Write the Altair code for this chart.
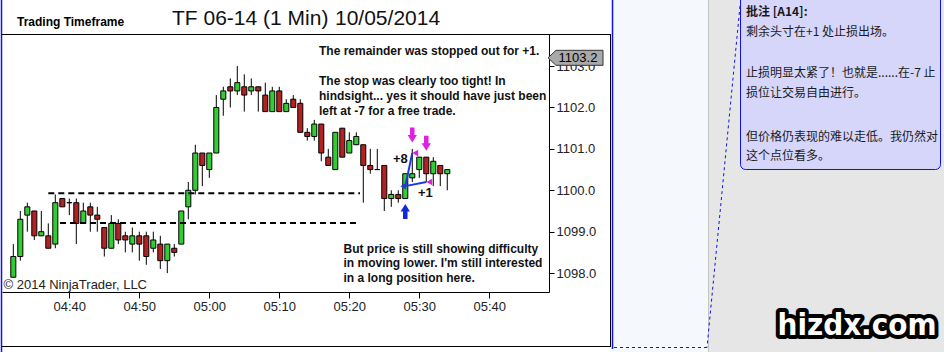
import altair as alt
import pandas as pd

FONT = "Liberation Sans"
CJK = "Noto Sans CJK SC"
GREEN = "#32CD32"
RED = "#B22222"
BLUE = "#2236E0"
MAGENTA = "#E020E0"

# ---------------- data ----------------
times = ["04:32", "04:33", "04:34", "04:35", "04:36", "04:37", "04:38", "04:39",
         "04:40", "04:41", "04:42", "04:43", "04:44", "04:45", "04:46", "04:47",
         "04:48", "04:49", "04:50", "04:51", "04:52", "04:53", "04:54", "04:55",
         "04:56", "04:57", "04:58", "04:59", "05:00", "05:01", "05:02", "05:03",
         "05:04", "05:05", "05:06", "05:07", "05:08", "05:09", "05:10", "05:11",
         "05:12", "05:13", "05:14", "05:15", "05:16", "05:17", "05:18", "05:19",
         "05:20", "05:21", "05:22", "05:23", "05:24", "05:25", "05:26", "05:27",
         "05:28", "05:29", "05:30", "05:31", "05:32", "05:33", "05:34"]
opens = [1097.9, 1098.4, 1099.4, 1099.5, 1098.9, 1098.9, 1098.7, 1099.8,
         1099.7, 1099.7, 1099.2, 1099.6, 1099.4, 1099.1, 1098.6, 1099.2,
         1098.9, 1098.7, 1098.9, 1098.9, 1098.6, 1098.7, 1098.3, 1098.6,
         1098.7, 1099.6, 1100.0, 1100.9, 1100.5, 1100.9, 1102.2, 1102.5,
         1102.4, 1102.5, 1102.4, 1102.5, 1102.3, 1101.9, 1102.4, 1101.9,
         1102.2, 1102.1, 1101.4, 1101.3, 1101.6, 1100.8, 1100.5, 1101.5,
         1100.9, 1101.1, 1101.1, 1100.6, 1100.5, 1100.6, 1099.8, 1099.9,
         1099.8, 1100.3, 1100.5, 1100.8, 1100.4, 1100.6, 1100.4]
highs = [1098.7, 1099.5, 1099.7, 1099.5, 1099.5, 1099.2, 1099.9, 1099.8,
         1099.8, 1099.8, 1099.7, 1099.7, 1099.6, 1099.1, 1099.4, 1099.3,
         1099.0, 1099.1, 1099.0, 1099.0, 1099.0, 1098.9, 1098.7, 1098.7,
         1099.5, 1100.2, 1101.1, 1100.9, 1100.9, 1102.3, 1102.5, 1102.7,
         1103.0, 1102.8, 1102.7, 1102.5, 1102.6, 1102.5, 1102.5, 1102.2,
         1102.3, 1102.2, 1101.5, 1101.7, 1101.6, 1101.0, 1101.4, 1101.5,
         1101.4, 1101.4, 1101.1, 1101.0, 1101.0, 1100.6, 1100.0, 1100.0,
         1100.4, 1101.0, 1100.8, 1100.8, 1100.8, 1100.6, 1100.5]
lows = [1097.9, 1098.3, 1099.0, 1098.8, 1098.9, 1098.6, 1098.6, 1099.6,
        1099.4, 1098.7, 1099.2, 1099.0, 1099.0, 1098.4, 1098.6, 1098.7,
        1098.5, 1098.5, 1098.3, 1098.2, 1098.5, 1098.1, 1098.0, 1098.4,
        1098.7, 1099.3, 1099.9, 1100.1, 1100.3, 1100.9, 1101.8, 1102.0,
        1102.3, 1101.9, 1102.3, 1101.9, 1101.9, 1101.9, 1101.9, 1101.9,
        1102.0, 1101.4, 1101.2, 1101.2, 1100.7, 1100.6, 1100.5, 1100.8,
        1100.9, 1101.1, 1099.7, 1100.4, 1100.5, 1099.5, 1099.6, 1099.7,
        1099.8, 1100.2, 1100.3, 1100.2, 1100.1, 1100.1, 1100.0]
closes = [1098.4, 1099.3, 1099.6, 1098.9, 1099.0, 1098.6, 1099.7, 1099.6,
          1099.7, 1099.2, 1099.5, 1099.4, 1099.3, 1098.6, 1099.2, 1098.8,
          1098.8, 1098.9, 1098.7, 1098.4, 1098.8, 1098.3, 1098.7, 1098.5,
          1099.5, 1100.0, 1100.9, 1100.6, 1100.9, 1102.0, 1102.4, 1102.4,
          1102.6, 1102.3, 1102.5, 1102.4, 1101.9, 1102.4, 1101.9, 1102.1,
          1102.0, 1101.4, 1101.3, 1101.6, 1100.9, 1100.6, 1101.4, 1100.8,
          1101.2, 1101.3, 1100.6, 1100.5, 1100.5, 1099.8, 1099.9, 1099.8,
          1100.4, 1100.4, 1100.8, 1100.4, 1100.7, 1100.4, 1100.5]

x_tick_labels = ["04:40", "04:50", "05:00", "05:10", "05:20", "05:30", "05:40"]
y_ticks = [1098.0, 1099.0, 1100.0, 1101.0, 1102.0, 1103.0]
x_domain = ["04:30:23", "05:48:32"]
y_domain = [1097.543, 1103.775]

level_prices = [1099.93, 1099.21]
level_from = ["04:37:00", "04:38:40"]
level_to = "05:21:32"

entry_time, entry_price = "05:28", 1100.1
exit_times = ["05:29", "05:31"]
exit_prices = [1100.9, 1100.2]
last_price = 1103.2

note_lines = ["The remainder was stopped out for +1.", "",
              "The stop was clearly too tight! In",
              "hindsight... yes it should have just been",
              "left at -7 for a free trade."]
note2_lines = ["But price is still showing difficulty",
               "in moving lower. I'm still interested",
               "in a long position here."]
cn_lines = ["批注 [A14]:", "剩余头寸在+1 处止损出场。", "",
            "止损明显太紧了！也就是......在-7 止", "损位让交易自由进行。", "",
            "但价格仍表现的难以走低。我仍然对", "这个点位看多。"]


def to_min(s):
    parts = [int(p) for p in s.split(":")]
    v = parts[0] * 60 + parts[1]
    if len(parts) > 2:
        v += parts[2] / 60.0
    return v


df = pd.DataFrame({"time": times, "open": opens, "high": highs,
                   "low": lows, "close": closes})
df["t"] = df["time"].map(to_min)
df["t0"] = df["t"] - 0.36
df["t1"] = df["t"] + 0.36
df["dir"] = ["up" if c >= o else "down" for o, c in zip(df["open"], df["close"])]

xs = alt.Scale(domain=[to_min(v) for v in x_domain], nice=False, zero=False)
ys = alt.Scale(domain=y_domain, nice=False, zero=False)

xaxis = alt.Axis(values=[to_min(v) for v in x_tick_labels],
                 labelExpr="(floor(datum.value/60)<10?'0':'') + floor(datum.value/60) + ':' + (datum.value%60<10?'0':'') + (datum.value%60)",
                 title=None, grid=False, domainColor="black", tickColor="black",
                 tickSize=6, labelFont=FONT, labelFontSize=13, labelColor="#222222",
                 labelPadding=2, orient="bottom")
yaxis = alt.Axis(values=y_ticks, format=".1f", orient="right", title=None, grid=False,
                 domainColor="black", tickColor="black", tickSize=5, labelFont=FONT,
                 labelFontSize=13, labelColor="#222222", labelPadding=2)


def X(f):
    return alt.X(f, scale=xs, axis=xaxis)


def Y(f):
    return alt.Y(f, scale=ys, axis=yaxis)


OX, OY = 2, 34
one = pd.DataFrame({"k": [0]})


def prect(x0, y0, x1, y1, **kw):
    return alt.Chart(one).mark_rect(**kw).encode(
        x=alt.value(x0 - OX), x2=alt.value(x1 - OX),
        y=alt.value(y0 - OY), y2=alt.value(y1 - OY))


def pline(x0, y0, x1, y1, **kw):
    return alt.Chart(one).mark_rule(**kw).encode(
        x=alt.value(x0 - OX), x2=alt.value(x1 - OX),
        y=alt.value(y0 - OY), y2=alt.value(y1 - OY))


def ptext(s, x, y, **kw):
    kw.setdefault("align", "left")
    kw.setdefault("baseline", "alphabetic")
    return alt.Chart(one).mark_text(**kw).encode(
        x=alt.value(x - OX), y=alt.value(y - OY), text=alt.value(s))


# candles first so that their axes define the shared scales
wicks = alt.Chart(df).mark_rule(color="black", strokeWidth=1).encode(
    x=X("t:Q"), y=Y("low:Q"), y2="high:Q")
bodies = alt.Chart(df).mark_rect(stroke="black", strokeWidth=1).encode(
    x=X("t0:Q"), x2="t1:Q", y=Y("open:Q"), y2="close:Q",
    color=alt.Color("dir:N", scale=alt.Scale(domain=["up", "down"], range=[GREEN, RED]),
                    legend=None))

layers = [wicks, bodies]

# backgrounds of the side panels
layers.append(prect(613, 0, 708, 352, color="#F5F8FC"))
layers.append(prect(708, 0, 944, 352, color="#E6E6E6"))
layers.append(pline(708.5, 0, 708.5, 352, color="#C4C4C4", strokeWidth=1))
# comment box
layers.append(prect(740.5, -6, 940.5, 169.5, fill="#D6D6FA", stroke="#1010F0",
                    strokeWidth=1, cornerRadius=5))
# dashed connector
layers.append(pline(740, 6, 707, 347.5, color="#1010F0", strokeWidth=1, strokeDash=[3, 3]))
layers.append(pline(707, 347.5, 613, 347.5, color="#1010F0", strokeWidth=1, strokeDash=[3, 3]))
# panel borders
layers.append(pline(1.5, 0, 1.5, 352, color="#1010F0", strokeWidth=1.5))
layers.append(pline(612.5, 0, 612.5, 349, color="#1010F0", strokeWidth=1.5))
layers.append(pline(610.5, 34, 610.5, 347, color="black", strokeWidth=1))
layers.append(pline(2, 346.5, 611, 346.5, color="black", strokeWidth=1))
layers.append(pline(2, 34.5, 611, 34.5, color="black", strokeWidth=1))

# drawn levels
lv = pd.DataFrame({"x0": [to_min(s) for s in level_from],
                   "x1": [to_min(level_to)] * len(level_prices),
                   "p": level_prices})
layers.append(alt.Chart(lv).mark_rule(color="black", strokeWidth=2, strokeDash=[6, 4]).encode(
    x=X("x0:Q"), x2="x1:Q", y=Y("p:Q")))

# trade
et = to_min(entry_time)
tl = pd.DataFrame({"x0": [et] * len(exit_times), "y0": [entry_price] * len(exit_times),
                   "x1": [to_min(s) for s in exit_times], "y1": exit_prices})
layers.append(alt.Chart(tl).mark_rule(color=BLUE, strokeWidth=2).encode(
    x=X("x0:Q"), y=Y("y0:Q"), x2="x1:Q", y2="y1:Q"))
ent = pd.DataFrame({"t": [et], "p": [entry_price],
                    "low": [df.loc[df["time"] == entry_time, "low"].iloc[0]]})
exd = pd.DataFrame({"t": [to_min(s) for s in exit_times], "p": exit_prices,
                    "high": [df.loc[df["time"] == s, "high"].iloc[0] for s in exit_times]})
layers.append(alt.Chart(ent).mark_point(shape="triangle-left", filled=True, size=45,
                                        color=BLUE, opacity=1, xOffset=-2).encode(
    x=X("t:Q"), y=Y("p:Q")))
layers.append(alt.Chart(exd).mark_point(shape="triangle-left", filled=True, size=45,
                                        color=MAGENTA, opacity=1, xOffset=3).encode(
    x=X("t:Q"), y=Y("p:Q")))
UP = "M -0.3 1 L 0.3 1 L 0.3 0 L 0.62 0 L 0 -1 L -0.62 0 L -0.3 0 Z"
DOWN = "M -0.3 -1 L 0.3 -1 L 0.3 0 L 0.62 0 L 0 1 L -0.62 0 L -0.3 0 Z"
layers.append(alt.Chart(ent).mark_point(shape=UP, filled=True, size=225, color="#1028D8",
                                        opacity=1, yOffset=13).encode(
    x=X("t:Q"), y=Y("low:Q")))
layers.append(alt.Chart(exd).mark_point(shape=DOWN, filled=True, size=225, color=MAGENTA,
                                        opacity=1, yOffset=-14).encode(
    x=X("t:Q"), y=Y("high:Q")))

# last price marker
lp = pd.DataFrame({"p": [last_price], "s": [f"{last_price:.1f}"]})
MARK = "M -1 0 L -0.71 -0.273 L 1 -0.273 L 1 0.273 L -0.71 0.273 Z"
layers.append(alt.Chart(lp).mark_point(shape=MARK, filled=True, size=3025, fill="#A9A9A9",
                                       stroke="#333333", strokeWidth=1, opacity=1).encode(
    x=alt.value(575.5 - OX), y=Y("p:Q")))
layers.append(alt.Chart(lp).mark_text(font=FONT, fontSize=13, color="black").encode(
    x=alt.value(578 - OX), y=Y("p:Q"), text="s:N"))

# texts
layers.append(ptext("Trading Timeframe", 17, 25.5, font=FONT, fontSize=12, fontWeight="bold", color="black"))
layers.append(ptext("TF 06-14 (1 Min)", 172, 24.5, font=FONT, fontSize=21, color="#111111"))
layers.append(ptext("10/05/2014", 335, 24.5, font=FONT, fontSize=21, color="#111111"))
for i, s in enumerate(note_lines):
    if s:
        layers.append(ptext(s, 319, 54.5 + 15 * i, font=FONT, fontSize=12, fontWeight="bold", color="#111111"))
for i, s in enumerate(note2_lines):
    layers.append(ptext(s, 343.5, 252.7 + 14.6 * i, font=FONT, fontSize=12, fontWeight="bold", color="#111111"))
layers.append(ptext("+8", 393, 162.7, font=FONT, fontSize=13, fontWeight="bold", color="#111111"))
layers.append(ptext("+1", 418, 196.7, font=FONT, fontSize=13, fontWeight="bold", color="#111111"))
layers.append(ptext("© 2014 NinjaTrader, LLC", 3.5, 288.5, font=FONT, fontSize=13, color="#222222"))

cn_y = [11.7, 31.7, 52.5, 73.3, 93.3, 115, 136.7, 155.5]
for i, s in enumerate(cn_lines):
    if s:
        layers.append(ptext(s, 746, cn_y[i], font=CJK, fontSize=12, baseline="middle",
                            fontWeight="bold" if i == 0 else "normal", color="#1A1A1A"))

WM = "Liberation Sans Narrow, Arial Narrow, DejaVu Sans Condensed, sans-serif"
layers.append(ptext("hizdx.com", 857, 335, font=WM, fontSize=31, fontWeight="bold", align="center",
                    color="black", stroke="black", strokeWidth=8, strokeJoin="round"))
layers.append(ptext("hizdx.com", 857, 335, font=WM, fontSize=31, fontWeight="bold", align="center",
                    color="white"))

chart = alt.layer(*layers).properties(
    width=547, height=258,
    padding={"left": OX, "top": OY, "right": 944 - 549, "bottom": 352 - 292},
    autosize=alt.AutoSizeParams(type="none"),
    background="white",
).configure_view(strokeWidth=0)

chart.save("out.html", embed_options={"renderer": "svg", "actions": False})
